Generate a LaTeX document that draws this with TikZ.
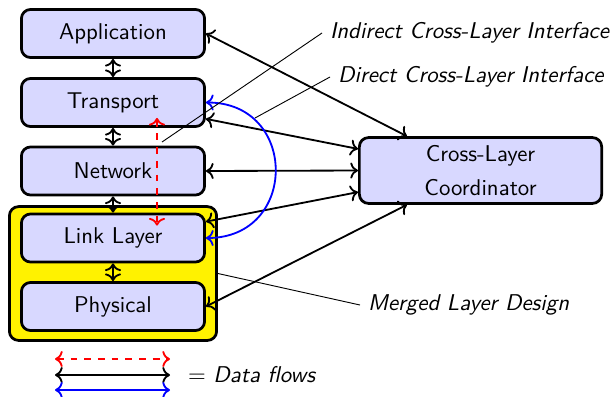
\documentclass[tikz,border=0pt]{standalone}
\usepackage{tikz}
\usetikzlibrary{arrows.meta, positioning, calc}
\definecolor{layerfill}{RGB}{216,216,255}

\begin{document}
\begin{tikzpicture}[x=0.0154cm, y=-0.0154cm, font=\sffamily,
  layer/.style={draw, very thick, fill=layerfill, rounded corners, minimum width=2.82cm, minimum height=0.74cm},
  flow/.style={<->, thick},
  note/.style={thin},
  notetext/.style={anchor=west, font=\sffamily\itshape}]
  \useasboundingbox (0,0) rectangle (615,396);

  % merged layers
  \node[draw, very thick, fill=yellow, rounded corners, minimum width=3.19cm, minimum height=2.06cm] (merged) at (113,273.5) {};

  % protocol stack
  \node[layer] (app) at (113,33.5) {Application};
  \node[layer] (tr) at (113,102.5) {Transport};
  \node[layer] (net) at (113,171) {Network};
  \node[layer] (ll) at (113,238) {Link Layer};
  \node[layer] (ph) at (113,306.5) {Physical};

  \node[layer, minimum width=3.73cm, minimum height=0.99cm, align=center] (clc) at (480.5,170.5) {Cross-Layer\\[3pt]Coordinator};

  % between adjacent layers
  \draw[flow] (app.south) -- (tr.north);
  \draw[flow] (tr.south) -- (net.north);
  \draw[flow] (net.south) -- (ll.north);
  \draw[flow] (ll.south) -- (ph.north);

  % to the coordinator
  \draw[flow] (app.east) -- (clc.155);
  \draw[flow] (tr.-10) -- (clc.170);
  \draw[flow] (net.east) -- (clc.west);
  \draw[flow] (ll.10) -- (clc.190);
  \draw[flow] (ph.east) -- (clc.205);

  % direct links
  \draw[flow, blue] (tr.east) to[out=0, in=0, looseness=1.75] (ll.east);
  \draw[flow, red, dashed] ($(tr.south)+(44,-10)$) -- ($(ll.north)+(44,13)$);

  % notes
  \node[notetext] (ind) at (322,33) {Indirect Cross-Layer Interface};
  \node[notetext] (dir) at (330,77) {Direct Cross-Layer Interface};
  \node[notetext] (mld) at (360,305) {Merged Layer Design};
  \coordinate (indp) at (162,142);
  \coordinate (dirp) at (255,118);
  \draw[note] (ind.west) -- (indp);
  \draw[note] (dir.west) -- (dirp);
  \draw[note] (mld.west) -- (merged.east);

  % legend
  \coordinate (la) at (55,359);
  \coordinate (lb) at (170,359);
  \coordinate (lc) at (55,375);
  \coordinate (ld) at (170,375);
  \coordinate (le) at (55,390);
  \coordinate (lf) at (170,390);
  \draw[flow, red, dashed] (la) -- (lb);
  \draw[flow] (lc) -- (ld);
  \draw[flow, blue] (le) -- (lf);
  \node[anchor=west] (leg) at (180,375) {$=$ \textit{Data flows}};
\end{tikzpicture}
\end{document}
